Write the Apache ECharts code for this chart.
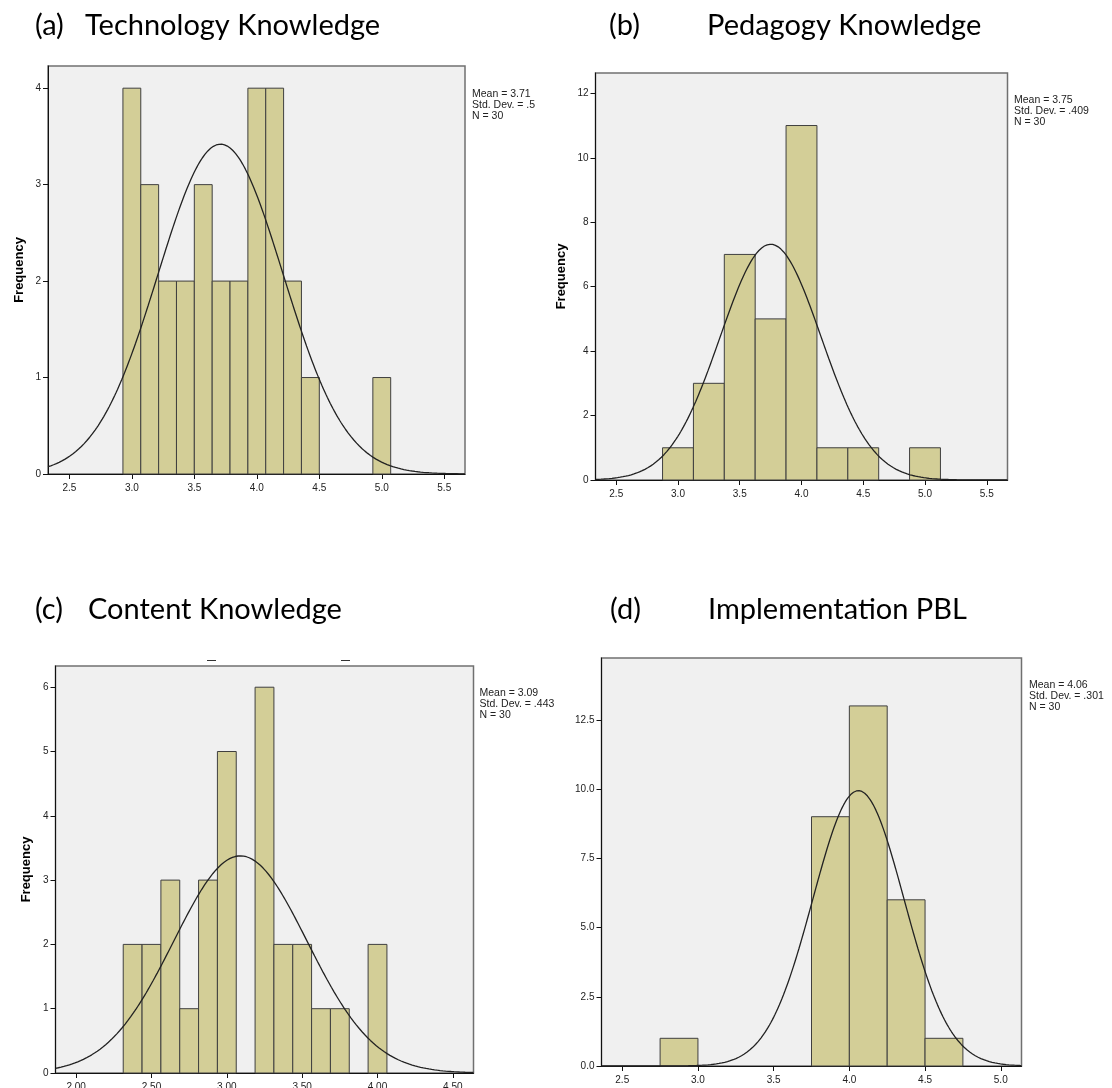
<!DOCTYPE html>
<html><head><meta charset="utf-8">
<script src="https://cdn.jsdelivr.net/npm/echarts@6/dist/echarts.min.js"></script>
<style>html,body{margin:0;padding:0;background:#fff}#c{width:1112px;height:1088px}</style>
</head><body><div id="c"></div>
<script>
// ---- text ----
const panelLetters = ['(a)', '(b)', '(c)', '(d)'];
const panelTitles = ['Technology Knowledge', 'Pedagogy Knowledge', 'Content Knowledge', 'Implementation PBL'];
const statMeanLabel = ['3.71', '3.75', '3.09', '4.06'];
const statSDLabel = ['.5', '.409', '.443', '.301'];
const statN = [30, 30, 30, 30];
const statMean = [3.71, 3.75, 3.09, 4.06];
const statSD = [0.5, 0.409, 0.443, 0.301];

// ---- histogram bins (centers, counts, width) ----
const binWidthA = 1 / 7;
const binCentersA = [3.0, 3.1429, 3.2857, 3.4286, 3.5714, 3.7143, 3.8571, 4.0, 4.1429, 4.2857, 4.4286, 4.5714, 4.7143, 4.8571, 5.0];
const countsA = [4, 3, 2, 2, 3, 2, 2, 4, 4, 2, 1, 0, 0, 0, 1];

const binWidthB = 0.25;
const binCentersB = [3.0, 3.25, 3.5, 3.75, 4.0, 4.25, 4.5, 4.75, 5.0];
const countsB = [1, 3, 7, 5, 11, 1, 1, 0, 1];

const binWidthC = 0.125;
const binCentersC = [2.375, 2.5, 2.625, 2.75, 2.875, 3.0, 3.125, 3.25, 3.375, 3.5, 3.625, 3.75, 3.875, 4.0];
const countsC = [2, 2, 3, 1, 3, 5, 0, 6, 2, 2, 1, 1, 0, 2];

const binWidthD = 0.25;
const binCentersD = [2.875, 3.125, 3.375, 3.625, 3.875, 4.125, 4.375, 4.625];
const countsD = [1, 0, 0, 0, 9, 13, 6, 1];

// ---- tick labels ----
const xTicksA = [2.5, 3.0, 3.5, 4.0, 4.5, 5.0, 5.5];
const yTicksA = [0, 1, 2, 3, 4];
const xTicksB = [2.5, 3.0, 3.5, 4.0, 4.5, 5.0, 5.5];
const yTicksB = [0, 2, 4, 6, 8, 10, 12];
const xTicksC = [2.0, 2.5, 3.0, 3.5, 4.0, 4.5];
const yTicksC = [0, 1, 2, 3, 4, 5, 6];
const xTicksD = [2.5, 3.0, 3.5, 4.0, 4.5, 5.0];
const yTicksD = [0, 2.5, 5.0, 7.5, 10.0, 12.5];

// ---- axis extents ----
const xRangeA = [2.329, 5.666], yMaxA = 4.23;
const xRangeB = [2.332, 5.668], yMaxB = 12.63;
const xRangeC = [1.863, 4.637], yMaxC = 6.33;
const xRangeD = [2.363, 5.137], yMaxD = 14.73;

const panels = [
  {centers: binCentersA, counts: countsA, w: binWidthA, xt: xTicksA, yt: yTicksA, xr: xRangeA, ym: yMaxA, xd: 1, yd: 0,
   grid: {left: 48, top: 66, width: 417, height: 408}, yName: 'Frequency', nameGap: 22,
   stat: [472, 88.5], title: [35, 85, 26]},
  {centers: binCentersB, counts: countsB, w: binWidthB, xt: xTicksB, yt: yTicksB, xr: xRangeB, ym: yMaxB, xd: 1, yd: 0,
   grid: {left: 595.5, top: 73, width: 412, height: 407}, yName: 'Frequency', nameGap: 28,
   stat: [1014, 94.5], title: [609, 707, 26]},
  {centers: binCentersC, counts: countsC, w: binWidthC, xt: xTicksC, yt: yTicksC, xr: xRangeC, ym: yMaxC, xd: 2, yd: 0,
   grid: {left: 55.5, top: 666, width: 418, height: 407}, yName: 'Frequency', nameGap: 23,
   stat: [479.5, 688], title: [35, 88, 610]},
  {centers: binCentersD, counts: countsD, w: binWidthD, xt: xTicksD, yt: yTicksD, xr: xRangeD, ym: yMaxD, xd: 1, yd: 1,
   grid: {left: 601.5, top: 658, width: 420, height: 408}, yName: '', nameGap: 25,
   stat: [1029, 679.5], title: [610, 708, 610]}
];

const BAR_FILL = '#d3ce97', BAR_STROKE = '#3f3f3f';
const tickFont = 'Liberation Sans';

const grids = [], xAxes = [], yAxes = [], series = [], graphics = [];

panels.forEach((p, i) => {
  grids.push(Object.assign({show: true, backgroundColor: '#f0f0f0', borderColor: '#707070', borderWidth: 1.5,
    containLabel: false, outerBoundsMode: 'none'}, p.grid));
  xAxes.push({
    gridIndex: i, type: 'value', min: p.xr[0], max: p.xr[1],
    axisLine: {show: true, onZero: false, lineStyle: {color: '#111', width: 1}},
    axisTick: {show: true, inside: false, length: 5, customValues: p.xt, lineStyle: {color: '#111'}},
    axisLabel: {customValues: p.xt, formatter: v => Number(v).toFixed(p.xd), fontSize: 10, color: '#222', margin: 9, fontFamily: tickFont, hideOverlap: false},
    splitLine: {show: false}
  });
  yAxes.push({
    gridIndex: i, type: 'value', min: 0, max: p.ym,
    name: p.yName, nameLocation: 'middle', nameRotate: 90, nameGap: p.nameGap,
    nameTextStyle: {fontWeight: 'bold', fontSize: 13, color: '#000', fontFamily: tickFont},
    axisLine: {show: true, lineStyle: {color: '#111', width: 1}},
    axisTick: {show: true, inside: false, length: 5, customValues: p.yt, lineStyle: {color: '#111'}},
    axisLabel: {customValues: p.yt, formatter: v => Number(v).toFixed(p.yd), fontSize: 10, color: '#222', margin: 7, fontFamily: tickFont, hideOverlap: false},
    splitLine: {show: false}
  });
  const barData = [];
  p.centers.forEach((c, k) => { if (p.counts[k] > 0) barData.push([c, p.counts[k], p.w]); });
  series.push({
    type: 'custom', xAxisIndex: i, yAxisIndex: i, data: barData, silent: true,
    renderItem: (params, api) => {
      const c = api.value(0), v = api.value(1), w = api.value(2);
      const p0 = api.coord([c - w / 2, 0]);
      const p1 = api.coord([c + w / 2, v]);
      return {type: 'rect', shape: {x: p0[0], y: p1[1], width: p1[0] - p0[0], height: p0[1] - p1[1]},
        style: {fill: BAR_FILL, stroke: BAR_STROKE, lineWidth: 1}};
    }
  });
  // fitted normal curve from the stated mean / SD / N
  const curve = [];
  const steps = 300;
  const m = statMean[i], s = statSD[i], n = statN[i];
  for (let k = 0; k <= steps; k++) {
    const x = p.xr[0] + (p.xr[1] - p.xr[0]) * k / steps;
    const z = (x - m) / s;
    curve.push([x, n * p.w * Math.exp(-0.5 * z * z) / (s * Math.sqrt(2 * Math.PI))]);
  }
  series.push({type: 'line', xAxisIndex: i, yAxisIndex: i, data: curve, showSymbol: false, silent: true,
    lineStyle: {color: '#222', width: 1.3}, z: 5, clip: true});

  graphics.push({type: 'text', x: p.stat[0], y: p.stat[1],
    style: {text: 'Mean = ' + statMeanLabel[i] + '\nStd. Dev. = ' + statSDLabel[i] + '\nN = ' + statN[i],
      font: '10.5px "Liberation Sans"', fill: '#222', lineHeight: 11}});
  graphics.push({type: 'text', x: p.title[0], y: p.title[2],
    style: {text: panelLetters[i], font: '29px Lato', fill: '#000', verticalAlign: 'middle'}});
  graphics.push({type: 'text', x: p.title[1], y: p.title[2],
    style: {text: panelTitles[i], font: '29px Lato', fill: '#000', verticalAlign: 'middle'}});
});

// small stray marks above panel (c)
graphics.push({type: 'line', shape: {x1: 207, y1: 660.5, x2: 216, y2: 660.5}, style: {stroke: '#333', lineWidth: 1}});
graphics.push({type: 'line', shape: {x1: 341, y1: 660.5, x2: 350, y2: 660.5}, style: {stroke: '#333', lineWidth: 1}});

const chart = echarts.init(document.getElementById('c'), null, {renderer: 'canvas'});
chart.setOption({
  animation: false,
  backgroundColor: '#ffffff',
  grid: grids, xAxis: xAxes, yAxis: yAxes, series: series, graphic: graphics
});
</script>
</body></html>
